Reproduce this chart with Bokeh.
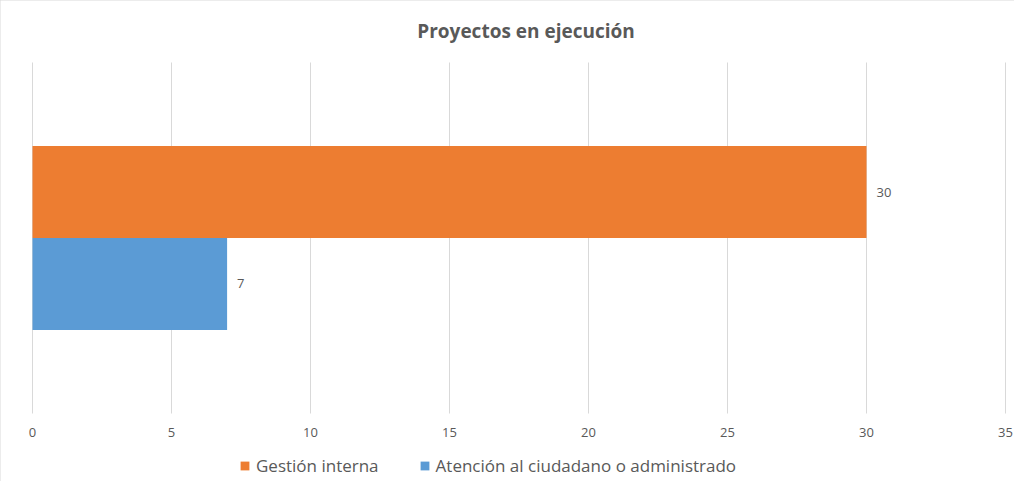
from bokeh.plotting import figure
from bokeh.models import Range1d, ColumnDataSource, LabelSet, Legend, LegendItem
from bokeh.core.properties import value
from bokeh.embed import file_html
from bokeh.resources import INLINE

title = "Proyectos en ejecución"
series = ["Gestión interna", "Atención al ciudadano o administrado"]
values = [30, 7]
colors = ["#ED7D31", "#5B9BD5"]
x_ticks = [0, 5, 10, 15, 20, 25, 30, 35]

# layout: the frame covers the whole canvas; the category band is 0..1 in y
W, H = 1014, 481
left_px, right_px = 32, 1005          # pixel positions of x=0 and x=35
top_px, bottom_px = 62, 413           # pixel extent of the category band
ppu = (right_px - left_px) / (x_ticks[-1] - x_ticks[0])
band = bottom_px - top_px
x_start = x_ticks[0] - left_px / ppu
x_end = x_ticks[-1] + (W - right_px) / ppu
y_start = -(H - bottom_px) / band
y_end = 1 + top_px / band

bar_h = 0.262
centers = [0.5 + bar_h / 2 - i * bar_h for i in range(len(series))]
tick_label_y = -19 / band
title_y = 1 + 32 / band

src = ColumnDataSource(dict(name=series, val=values, y=centers, color=colors,
                            lbl=[str(v) for v in values]))

p = figure(width=W, height=H, x_range=Range1d(x_start, x_end), y_range=Range1d(y_start, y_end),
           output_backend="svg", toolbar_location=None,
           min_border_left=0, min_border_right=0, min_border_top=0, min_border_bottom=0)
p.styles = {"outline": "1px solid #D9D9D9", "outline-offset": "-1px"}
p.outline_line_color = None
p.xaxis.visible = False
p.yaxis.visible = False
p.xgrid.visible = False
p.ygrid.visible = False

# title
p.text(x=[(x_ticks[0] + x_ticks[-1]) / 2], y=[title_y], text=[title], x_offset=7,
       text_align="center", text_baseline="middle", text_font=value("Open Sans"),
       text_font_style="bold", text_font_size="19px", text_color="#595959")

# vertical gridlines at the tick values
p.segment(x0=x_ticks, y0=0, x1=x_ticks, y1=1, line_color="#D9D9D9", line_width=1)
p.text(x=x_ticks, y=tick_label_y, text=[str(t) for t in x_ticks],
       text_align="center", text_baseline="middle", text_font=value("Open Sans"),
       text_font_size="13px", text_color="#595959")

r = p.hbar(y="y", right="val", left=0, height=bar_h, color="color", source=src, line_color=None)

labels = LabelSet(x="val", y="y", text="lbl", source=src, x_offset=10,
                  text_baseline="middle", text_font_size="13px", text_color="#595959",
                  text_font=value("Open Sans"))
p.add_layout(labels)

items = [LegendItem(label=s, renderers=[r], index=i) for i, s in enumerate(series)]
legend = Legend(items=items, orientation="horizontal", location=(239, 4),
                label_text_font="Open Sans", label_text_font_size="17px",
                label_text_color="#595959", glyph_width=11, glyph_height=11,
                spacing=40, label_standoff=6, border_line_color=None,
                padding=4, margin=0, background_fill_alpha=0)
p.add_layout(legend)

open("out.html", "w").write(file_html(p, INLINE))
